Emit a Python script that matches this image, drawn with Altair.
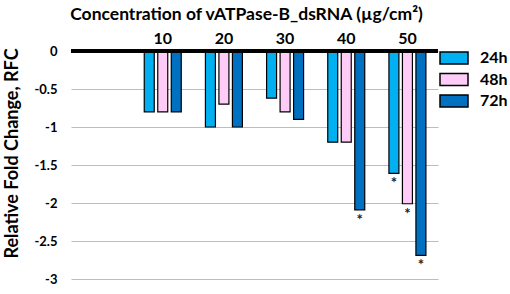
import altair as alt
import pandas as pd

concentrations = ["10", "20", "30", "40", "50"]
times = ["24h", "48h", "72h"]
rfc_24h = [-0.80, -1.00, -0.62, -1.20, -1.61]
rfc_48h = [-0.80, -0.70, -0.80, -1.20, -2.01]
rfc_72h = [-0.80, -1.00, -0.90, -2.09, -2.69]
sig_24h = [0, 0, 0, 0, 1]
sig_48h = [0, 0, 0, 0, 1]
sig_72h = [0, 0, 0, 1, 1]
y_ticks = [0, -0.5, -1, -1.5, -2, -2.5, -3]
colors = ["#00B0F0", "#FFCCF8", "#0070C0"]

rows = []
for t, vals, sigs in zip(times, [rfc_24h, rfc_48h, rfc_72h], [sig_24h, sig_48h, sig_72h]):
    for c, v, s in zip(concentrations, vals, sigs):
        rows.append({"conc": c, "time": t, "rfc": v, "sig": s})
df = pd.DataFrame(rows)

FONT = "Lato"

x_axis = alt.Axis(
    orient="top", title="Concentration of vATPase-B_dsRNA (µg/cm²)",
    labelAngle=0, ticks=False, domain=False, domainColor="transparent", grid=False,
    labelFontSize=16, labelFontWeight="bold", labelFont=FONT, labelColor="black",
    labelPadding=5,
    titleFontSize=17.5, titleFontWeight="bold", titleFont=FONT, titleColor="black",
    titleX=175, titleY=-32, titleBaseline="alphabetic", titleAnchor="middle",
)
x_scale = alt.Scale(domain=[" "] + concentrations, paddingInner=0, paddingOuter=0)
xoff_scale = alt.Scale(domain=times, paddingInner=0.26, paddingOuter=0.895)
y_scale = alt.Scale(domain=[-3, 0], nice=False, zero=False)
y_axis = alt.Axis(
    values=y_ticks, labelExpr="toString(datum.value)", labelOverlap=False,
    title="Relative Fold Change, RFC", domain=False, domainColor="transparent", ticks=False,
    grid=True, gridColor="#BDBDBD", gridWidth=1.2,
    labelFontSize=13, labelFontWeight="bold", labelFont=FONT, labelColor="black",
    labelPadding=14,
    titleFontSize=18, titleFontWeight="bold", titleFont=FONT, titleColor="black",
    titleX=-59, titleY=102, titleAlign="center", titleBaseline="middle", titleAngle=270,
)
color_enc = alt.Color(
    "time:N",
    scale=alt.Scale(domain=times, range=colors),
    legend=alt.Legend(
        title=None, orient="none", legendX=375, legendY=-1,
        symbolType="M-2,-0.86H2V0.86H-2Z", symbolSize=196,
        symbolStrokeColor="black", symbolStrokeWidth=1.5, symbolOpacity=1,
        labelFontSize=16, labelFontWeight="bold", labelFont=FONT, labelColor="black",
        labelOffset=18, rowPadding=1.5,
    ),
)

no_view = alt.ViewBackground(stroke="transparent", strokeWidth=0)

bars = alt.Chart(df).mark_bar(stroke="black", strokeWidth=1.2, opacity=1).encode(
    x=alt.X("conc:N", scale=x_scale, axis=x_axis),
    xOffset=alt.XOffset("time:N", scale=xoff_scale),
    y=alt.Y("rfc:Q", scale=y_scale, axis=y_axis),
    color=color_enc,
).properties(view=no_view)

stars = alt.Chart(df).transform_filter("datum.sig == 1").mark_text(
    text="*", baseline="top", dy=3, fontSize=15, fontWeight="bold", font=FONT, color="#222222"
).encode(
    x=alt.X("conc:N", scale=x_scale, axis=x_axis),
    xOffset=alt.XOffset("time:N", scale=xoff_scale),
    y=alt.Y("rfc:Q", scale=y_scale, axis=y_axis),
).properties(view=no_view)

zero = alt.Chart(df).mark_rule(color="black", strokeWidth=2.5).encode(
    y=alt.Y(datum=0, scale=y_scale, axis=y_axis)
).properties(view=no_view)

chart = alt.layer(bars, zero, stars).properties(
    width=367, height=228,
    padding={"left": 71, "top": 51, "right": 72, "bottom": 15},
    autosize=alt.AutoSizeParams(type="none"),
    view=no_view,
).configure_view(
    stroke="transparent", strokeWidth=0, strokeOpacity=0
).configure_axis(
    domain=False, domainOpacity=0, ticks=False
).configure_axisX(
    grid=False, domain=False
).configure_axisBand(
    grid=False, domain=False
).configure(background="white")

chart.save("out.html", embed_options={"renderer": "svg", "actions": False})
